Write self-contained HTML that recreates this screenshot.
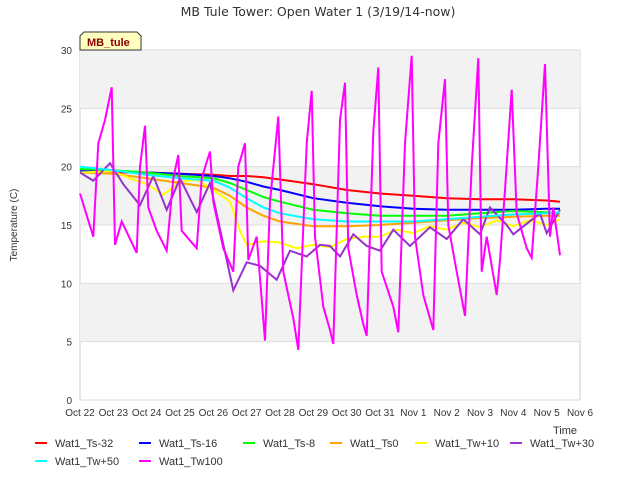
<!DOCTYPE html>
<html><head><meta charset="utf-8"><style>
body{margin:0;background:#fff;font-family:"Liberation Sans","DejaVu Sans",sans-serif;}
svg{display:block}
</style></head><body>
<svg id="c" width="640" height="480" xmlns="http://www.w3.org/2000/svg">
<text x="318" y="16" text-anchor="middle" font-size="12.5" font-family="DejaVu Sans, sans-serif" fill="#333">MB Tule Tower: Open Water 1 (3/19/14-now)</text>
<text transform="translate(17,225) rotate(-90)" text-anchor="middle" font-size="10" fill="#333">Temperature (C)</text>
<text x="553" y="434" font-size="11" fill="#333">Time</text>
<g id="plot"></g>
<g id="legend"></g>
<g>
<path d="M80,50 L80,36 L84,32 L137,32 L141,36 L141,50 Z" fill="#ffffc0" stroke="#333" stroke-width="1"/>
<text x="87" y="46" font-size="11" font-weight="bold" fill="#8b0000">MB_tule</text>
</g>
</svg>
<script>
const xTicks=["Oct 22","Oct 23","Oct 24","Oct 25","Oct 26","Oct 27","Oct 28","Oct 29","Oct 30","Oct 31","Nov 1","Nov 2","Nov 3","Nov 4","Nov 5","Nov 6"];
const yTicks=[0,5,10,15,20,25,30];
const tGrid=[0,1,2,3,4,4.5,5,5.5,6,7,8,9,10,11,12,13,14,14.4];
const ts32=[19.6,19.5,19.5,19.4,19.3,19.2,19.2,19.1,18.9,18.5,18.0,17.7,17.5,17.3,17.2,17.2,17.1,17.0];
const ts16=[19.6,19.6,19.5,19.4,19.2,19.0,18.7,18.3,18.0,17.3,16.9,16.6,16.4,16.3,16.3,16.3,16.4,16.4];
const ts8=[19.8,19.7,19.5,19.2,19.0,18.6,18.0,17.4,17.0,16.3,16.0,15.8,15.8,15.8,16.0,16.2,16.1,16.0];
const tw50=[20.0,19.7,19.3,19.0,18.8,18.2,17.3,16.5,16.0,15.5,15.3,15.3,15.3,15.5,15.7,15.9,16.0,16.1];
const ts0=[19.5,19.4,19.0,18.6,18.2,17.5,16.5,15.8,15.3,14.9,14.9,15.0,15.2,15.4,15.6,15.7,15.8,15.8];
const tW10=[0,1,1.5,2,2.5,3,3.5,4,4.5,4.8,5,5.5,6,6.5,7,7.5,8,8.5,9,9.5,10,10.5,11,11.5,12,12.5,13,13.5,14,14.4];
const tw10=[19.5,19.6,19.0,18.5,17.6,18.7,18.9,18.0,17.0,14.5,13.3,13.6,13.5,13.0,13.3,13.1,13.8,14.0,14.0,14.6,14.3,14.9,14.6,15.2,14.8,15.4,14.9,15.4,15.0,15.5];
const tW30=[0,0.4,0.9,1.3,1.8,2.2,2.6,3.0,3.5,3.9,4.6,5.0,5.4,5.9,6.3,6.8,7.2,7.5,7.8,8.2,8.6,9.0,9.4,9.9,10.5,11.0,11.5,12.0,12.3,12.8,13.0,13.8,14.0,14.4];
const tw30=[19.5,18.8,20.3,18.5,16.7,19.2,16.3,19.0,16.1,18.6,9.4,11.8,11.5,10.3,12.8,12.3,13.3,13.2,12.3,14.2,13.2,12.8,14.6,13.2,14.8,13.8,15.5,14.2,16.5,15.0,14.2,16.0,14.3,16.3];
const tW100=[0,0.4,0.55,0.75,0.95,1.05,1.25,1.7,1.8,1.95,2.05,2.3,2.6,2.8,2.95,3.05,3.5,3.65,3.9,4.0,4.3,4.6,4.75,4.95,5.05,5.3,5.55,5.7,5.95,6.1,6.4,6.55,6.8,6.95,7.05,7.3,7.5,7.6,7.8,7.95,8.05,8.3,8.5,8.6,8.8,8.95,9.05,9.4,9.55,9.75,9.95,10.05,10.3,10.6,10.75,10.95,11.05,11.3,11.55,11.75,11.95,12.05,12.2,12.5,12.6,12.75,12.95,13.1,13.4,13.55,13.75,13.95,14.1,14.2,14.4];
const tw100=[17.7,14,22,24,26.8,13.3,15.3,12.6,20,23.5,16.5,14.5,12.8,19,21,14.5,13,19,21.3,17,13,11,20,22,12,14,5.1,17,24.3,11,7,4.3,22,26.5,14,8,6,4.8,24,27.2,13,9,6.5,5.5,23,28.5,11,8,5.8,22,29.5,14,9,6,22,27.5,15,11,7.2,20,29.3,11,14,9,12,18,26.6,16,13,12.2,20,28.8,14,16.5,12.4];
const series=[
 {n:"Wat1_Ts-32",c:"#ff0000",t:tGrid,v:ts32},
 {n:"Wat1_Ts-16",c:"#0000ff",t:tGrid,v:ts16},
 {n:"Wat1_Ts-8",c:"#00ff00",t:tGrid,v:ts8},
 {n:"Wat1_Ts0",c:"#ffa500",t:tGrid,v:ts0},
 {n:"Wat1_Tw+10",c:"#ffff00",t:tW10,v:tw10},
 {n:"Wat1_Tw+30",c:"#9932cc",t:tW30,v:tw30},
 {n:"Wat1_Tw+50",c:"#00ffff",t:tGrid,v:tw50},
 {n:"Wat1_Tw100",c:"#ff00ff",t:tW100,v:tw100}];
const X0=80,X1=580,Y0=400,Y1=50;
const xS=d=>X0+d*(X1-X0)/15, yS=v=>Y0-v*(Y0-Y1)/30;
const NS="http://www.w3.org/2000/svg";
function mk(tag,at,par){const e=document.createElementNS(NS,tag);for(const k in at)e.setAttribute(k,at[k]);par.appendChild(e);return e;}
const P=document.getElementById('plot');
const bg=mk('rect',{x:X0,y:Y1,width:X1-X0,height:Y0-Y1,fill:'#fff',stroke:'#ccc'},P);


for(let i=0;i<yTicks.length-1;i+=2){
 const lo=yTicks[yTicks.length-2-i],hi=yTicks[yTicks.length-1-i];
 const b=mk('rect',{x:X0,y:yS(hi),width:X1-X0,height:yS(lo)-yS(hi),fill:'#f2f2f2'},P);
 
 
}
yTicks.forEach(v=>{
 const g=mk('line',{x1:X0,x2:X1,y1:yS(v),y2:yS(v),stroke:'#ddd'},P);
 
 
 const t=mk('text',{x:X0-8,y:yS(v)+4,'text-anchor':'end','font-size':10,fill:'#333'},P);t.textContent=v;
 
 
});
xTicks.forEach((s,i)=>{
 const t=mk('text',{x:xS(i),y:Y0+16,'text-anchor':'middle','font-size':10,fill:'#333'},P);t.textContent=s;
 
 
});
series.forEach(s=>{
 const pts=s.t.map((d,i)=>xS(d).toFixed(1)+','+yS(s.v[i]).toFixed(1)).join(' ');
 const l=mk('polyline',{points:pts,fill:'none',stroke:s.c,'stroke-width':2},P);
 
 
});
const L=document.getElementById('legend');
const pos=[[35,443],[139,443],[243,443],[330,443],[415,443],[510,443],[35,461],[139,461]];
series.forEach((s,i)=>{
 const [x,y]=pos[i];
 const g=mk('g',{},L);
 
 
 mk('line',{x1:x,x2:x+12,y1:y,y2:y,stroke:s.c,'stroke-width':2},g);
 const t=mk('text',{x:x+20,y:y+4,'font-size':11,fill:'#333'},g);t.textContent=s.n;
});
</script>
</body></html>
